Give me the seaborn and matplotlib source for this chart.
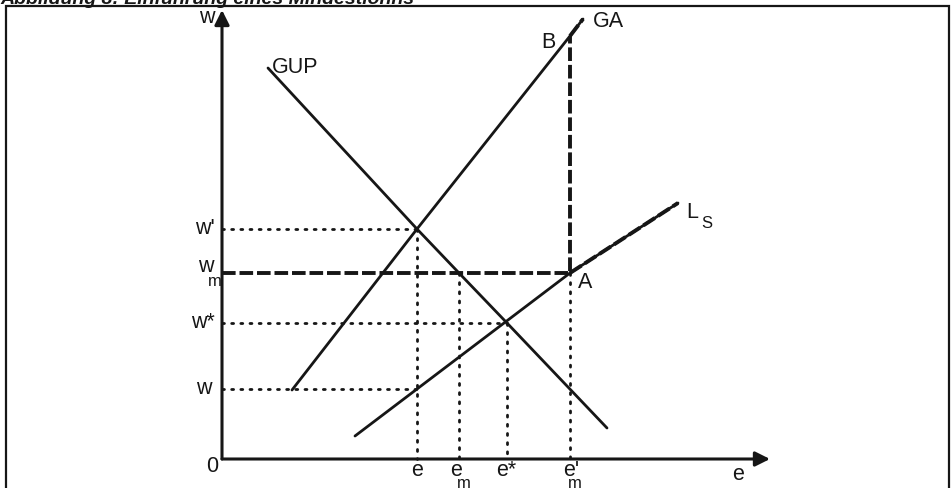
import matplotlib
matplotlib.use('Agg')

import pandas as pd
import seaborn as sns
import matplotlib.pyplot as plt
from matplotlib.patches import Rectangle


# model values, chart units (origin = 0/0)
w_levels = {'w_prime': 23.0, 'w_m': 18.6, 'w_star': 13.6, 'w_low': 7.0}
e_levels = {'e': 19.5, 'e_m': 23.7, 'e_star': 28.5, 'e_prime_m': 34.8}

gup_x = [4.6, 19.5, 23.7, 28.5, 38.5]
gup_y = [39.1, 23.0, 18.6, 13.6, 3.1]

ga_x = [7.0, 19.5, 34.8, 36.1]
ga_y = [6.9, 23.0, 42.3, 44.0]

ls_x = [13.3, 19.5, 34.8, 45.6]
ls_y = [2.3, 7.0, 18.6, 25.6]

ink = '#161616'

sns.set_theme(style='white')
plt.rcParams['font.family'] = ['Liberation Sans', 'DejaVu Sans']

fig = plt.figure(figsize=(9.51, 4.88), dpi=100)
ax = fig.add_axes([0, 0, 1, 1])
ax.set_xlim(-22.2, 72.9)
ax.set_ylim(-2.9, 45.9)
ax.axis('off')

# frame around the figure, title mostly cut off at the top edge
ax.add_patch(Rectangle((0.0063, -0.05), 0.9916, 1.0377, transform=ax.transAxes,
                       fill=False, lw=1.6, edgecolor=ink, clip_on=False))
ax.text(0.0, 1 - 4 / 488, 'Abbildung 8: Einführung eines Mindestlohns', transform=ax.transAxes,
        ha='left', va='baseline', fontsize=14, fontweight='bold', style='italic', color=ink)

# axes with arrows
ax.annotate('', xy=(0, 44.9), xytext=(0, 0),
            arrowprops=dict(arrowstyle='-|>', lw=2.2, color=ink, mutation_scale=22, shrinkA=0, shrinkB=0))
ax.annotate('', xy=(54.8, 0), xytext=(0, 0),
            arrowprops=dict(arrowstyle='-|>', lw=2.2, color=ink, mutation_scale=22, shrinkA=0, shrinkB=0))

# curves
curves = pd.concat([
    pd.DataFrame({'e': gup_x, 'w': gup_y, 'curve': 'GUP'}),
    pd.DataFrame({'e': ga_x, 'w': ga_y, 'curve': 'GA'}),
    pd.DataFrame({'e': ls_x, 'w': ls_y, 'curve': 'LS'}),
])
sns.lineplot(data=curves, x='e', y='w', units='curve', estimator=None, sort=False,
             color=ink, lw=2.0, ax=ax, legend=False)

# dotted guides
dot = dict(color=ink, lw=2.0, linestyle=(0, (0.7, 2.6)), dash_capstyle='round')
wp, wm, ws, wl = w_levels['w_prime'], w_levels['w_m'], w_levels['w_star'], w_levels['w_low']
e1, em, es, epm = e_levels['e'], e_levels['e_m'], e_levels['e_star'], e_levels['e_prime_m']
ax.plot([0, e1], [wp, wp], **dot)
ax.plot([e1, e1], [wp, 0], **dot)
ax.plot([em, em], [wm, 0], **dot)
ax.plot([0, es], [ws, ws], **dot)
ax.plot([es, es], [ws, 0], **dot)
ax.plot([0, e1], [wl, wl], **dot)
ax.plot([epm, epm], [wm, 0], **dot)

# minimum wage path (dashed)
dash = dict(color=ink, lw=2.8, linestyle=(0, (3.5, 1.0)))
ax.plot([0, epm, epm], [wm, wm, ga_y[2]], **dash)
ax.plot([ga_x[2], ga_x[3]], [ga_y[2], ga_y[3]], **dash)
ax.plot([ls_x[2], ls_x[3]], [ls_y[2], ls_y[3]], **dash)

fs = 15.5
sub = 12
txt = dict(color=ink, fontsize=fs)
ax.text(-1.5, 44.1, 'w', ha='center', va='center', **txt)
ax.text(5.0, 39.1, 'GUP', ha='left', va='center', **txt)
ax.text(32.6, 41.6, 'B', ha='center', va='center', **txt)
ax.text(38.6, 43.7, 'GA', ha='center', va='center', **txt)
ax.text(47.0, 24.6, 'L', ha='center', va='center', **txt)
ax.text(48.5, 23.5, 'S', ha='center', va='center', color=ink, fontsize=sub)
ax.text(36.3, 17.7, 'A', ha='center', va='center', **txt)

ax.text(-0.7, wp, "w'", ha='right', va='center', **txt)
ax.text(-1.6, wm + 0.6, 'w', ha='center', va='center', **txt)
ax.text(-0.7, wm - 0.9, 'm', ha='center', va='center', color=ink, fontsize=sub)
ax.text(-0.7, ws, 'w*', ha='right', va='center', **txt)
ax.text(-1.0, wl, 'w', ha='right', va='center', **txt)
ax.text(-1.0, -0.7, '0', ha='center', va='center', **txt)

ax.text(e1, -1.1, 'e', ha='center', va='center', **txt)
ax.text(em - 0.3, -1.1, 'e', ha='center', va='center', **txt)
ax.text(em + 0.5, -2.4, 'm', ha='center', va='center', color=ink, fontsize=sub)
ax.text(es - 0.1, -1.1, 'e*', ha='center', va='center', **txt)
ax.text(epm + 0.1, -1.1, "e'", ha='center', va='center', **txt)
ax.text(epm + 0.5, -2.4, 'm', ha='center', va='center', color=ink, fontsize=sub)
ax.text(51.6, -1.5, 'e', ha='center', va='center', **txt)

plt.savefig('out.png', dpi=100)
